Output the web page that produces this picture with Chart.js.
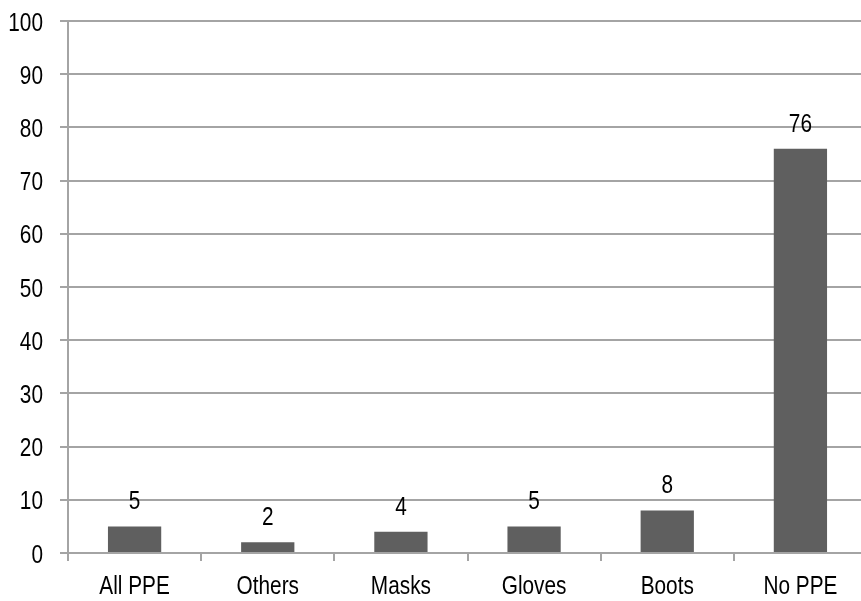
<!DOCTYPE html>
<html>
<head>
<meta charset="utf-8">
<script src="https://cdn.jsdelivr.net/npm/chart.js@4/dist/chart.umd.min.js"></script>
<style>
  html, body { margin: 0; padding: 0; background: #ffffff; overflow: hidden; }
  #wrap { width: 868px; height: 601px; }
</style>
</head>
<body>
<div id="wrap"><canvas id="c" width="868" height="601"></canvas></div>
<script>
// PPE usage, percent of respondents
const categories = ['All PPE', 'Others', 'Masks', 'Gloves', 'Boots', 'No PPE'];
const percentValues = [5, 2, 4, 5, 8, 76];
const yTickValues = [0, 10, 20, 30, 40, 50, 60, 70, 80, 90, 100];

const FONT = "'Liberation Sans', Arial, sans-serif";
const FONT_SIZE = 26;
const NARROW = 0.8;          // horizontal squeeze giving a narrow face
const GRID = '#a4a4a4';
const BAR = '#5f5f5f';

// Draws narrow text centred/right-aligned at (x, y) on the alphabetic baseline
function narrowText(ctx, text, x, y, align) {
  ctx.save();
  ctx.translate(x, y);
  ctx.scale(NARROW, 1);
  ctx.textAlign = align;
  ctx.textBaseline = 'alphabetic';
  ctx.fillText(text, 0, 0);
  ctx.restore();
}

// Axis tick labels and bar value labels, placed from the chart's scales
const narrowLabels = {
  id: 'narrowLabels',
  afterDraw(chart) {
    const ctx = chart.ctx;
    const xs = chart.scales.x;
    const ys = chart.scales.y;
    ctx.save();
    ctx.font = FONT_SIZE + 'px ' + FONT;
    ctx.fillStyle = '#000000';

    // y tick labels
    yTickValues.forEach(v => {
      narrowText(ctx, String(v), ys.left + 43, ys.getPixelForValue(v) + 9.5, 'right');
    });

    // category labels
    categories.forEach((c, i) => {
      narrowText(ctx, c, xs.getPixelForValue(i), xs.top + 41, 'center');
    });

    // value labels above bars
    const meta = chart.getDatasetMeta(0);
    meta.data.forEach((bar, i) => {
      narrowText(ctx, String(percentValues[i]), bar.x, bar.y - 17, 'center');
    });
    ctx.restore();
  }
};

new Chart(document.getElementById('c'), {
  type: 'bar',
  data: {
    labels: categories,
    datasets: [{
      data: percentValues,
      backgroundColor: BAR,
      borderWidth: 0,
      categoryPercentage: 1.0,
      barPercentage: 0.4
    }]
  },
  options: {
    responsive: false,
    animation: false,
    devicePixelRatio: 1,
    layout: { padding: { top: 21, right: 1, left: 0, bottom: 0 } },
    plugins: { legend: { display: false }, tooltip: { enabled: false } },
    scales: {
      x: {
        offset: true,
        grid: { offset: true, drawOnChartArea: false, drawTicks: true, tickLength: 8, color: GRID, lineWidth: 2 },
        border: { display: true, color: GRID, width: 2 },
        ticks: { display: false, autoSkip: false },
        afterFit(scale) { scale.height = 48; }
      },
      y: {
        min: 0,
        max: 100,
        afterBuildTicks(scale) { scale.ticks = yTickValues.map(v => ({ value: v })); },
        grid: { color: GRID, lineWidth: 2, drawTicks: true, tickLength: 8 },
        border: { display: true, color: GRID, width: 2 },
        ticks: { display: false },
        afterFit(scale) { scale.width = 68; }
      }
    }
  },
  plugins: [narrowLabels]
});
</script>
</body>
</html>
